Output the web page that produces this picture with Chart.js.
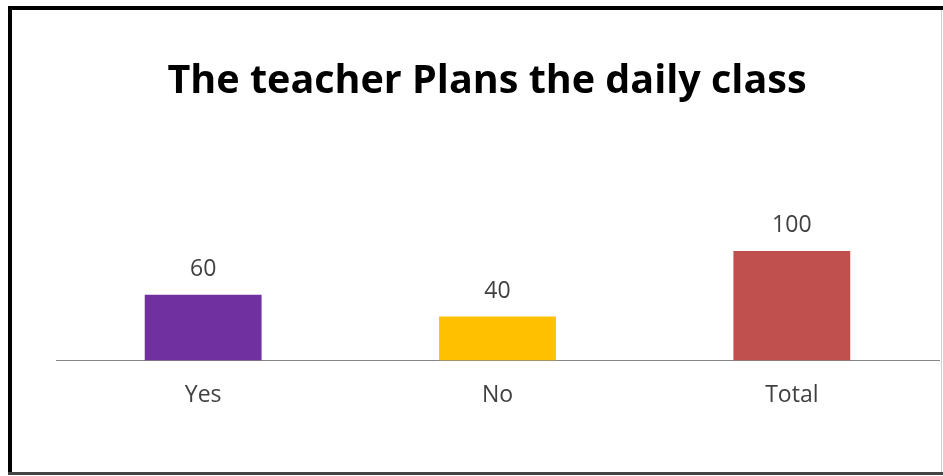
<!DOCTYPE html>
<html>
<head>
<meta charset="utf-8">
<title>The teacher Plans the daily class</title>
<script src="https://cdn.jsdelivr.net/npm/chart.js@4.4.1/dist/chart.umd.min.js"></script>
<style>
  html, body { margin: 0; padding: 0; background: #fff; }
  #wrap { position: relative; width: 943px; height: 476px; }
</style>
</head>
<body>
<div id="wrap"><canvas id="planChart" width="943" height="476"></canvas></div>
<script>
// Respostas: o professor planeja a aula diária
const categories = ['Yes', 'No', 'Total'];
const answers = [60, 40, 100];
const barColors = ['#7030A0', '#FFC000', '#C0504D'];
const chartTitle = 'The teacher Plans the daily class';

const textColor = '#404040';

// Título desenhado à mão para ficar levemente à esquerda do centro da área
const titlePlugin = {
  id: 'titlePlugin',
  afterDraw(chart) {
    const ctx = chart.ctx;
    ctx.save();
    ctx.font = 'bold 39.5px "Open Sans", sans-serif';
    ctx.fillStyle = '#000';
    ctx.textAlign = 'center';
    ctx.textBaseline = 'alphabetic';
    ctx.fillText(chartTitle, 487, 93);
    ctx.restore();
  }
};

// Rótulos de valor acima de cada barra
const valueLabels = {
  id: 'valueLabels',
  afterDatasetsDraw(chart) {
    const ctx = chart.ctx;
    const meta = chart.getDatasetMeta(0);
    ctx.save();
    ctx.font = '23px "Open Sans", sans-serif';
    ctx.fillStyle = textColor;
    ctx.textAlign = 'center';
    ctx.textBaseline = 'middle';
    meta.data.forEach((bar, i) => {
      ctx.fillText(String(chart.data.datasets[0].data[i]), bar.x, bar.y - 25);
    });
    ctx.restore();
  }
};

// Moldura em volta do gráfico
const frame = {
  id: 'frame',
  afterDraw(chart) {
    const ctx = chart.ctx;
    ctx.save();
    ctx.fillStyle = '#000';
    ctx.fillRect(8, 6, 4, 468);
    ctx.fillRect(8, 6, 935, 4);
    ctx.fillStyle = '#444';
    ctx.fillRect(8, 472, 935, 3);
    ctx.fillStyle = '#d0d0d0';
    ctx.fillRect(941, 10, 1, 462);
    ctx.restore();
  }
};

const bg = {
  id: 'bg',
  beforeDraw(chart) {
    const ctx = chart.ctx;
    ctx.save();
    ctx.fillStyle = '#fff';
    ctx.fillRect(0, 0, chart.width, chart.height);
    ctx.restore();
  }
};

new Chart(document.getElementById('planChart').getContext('2d'), {
  type: 'bar',
  data: {
    labels: categories,
    datasets: [{
      data: answers,
      backgroundColor: barColors,
      borderWidth: 0,
      categoryPercentage: 1,
      barPercentage: 0.397
    }]
  },
  options: {
    responsive: false,
    animation: false,
    layout: { padding: { left: 56, right: 4, top: 229, bottom: 46 } },
    plugins: {
      legend: { display: false },
      tooltip: { enabled: false },
      title: { display: false }
    },
    scales: {
      x: {
        grid: { display: false, drawTicks: false },
        border: { display: true, color: '#868686', width: 1 },
        ticks: {
          color: textColor,
          padding: 21,
          font: { family: '"Open Sans", sans-serif', size: 23, lineHeight: 1.2 }
        }
      },
      y: {
        display: false,
        min: 0,
        max: 120
      }
    }
  },
  plugins: [bg, valueLabels, titlePlugin, frame]
});
</script>
</body>
</html>
